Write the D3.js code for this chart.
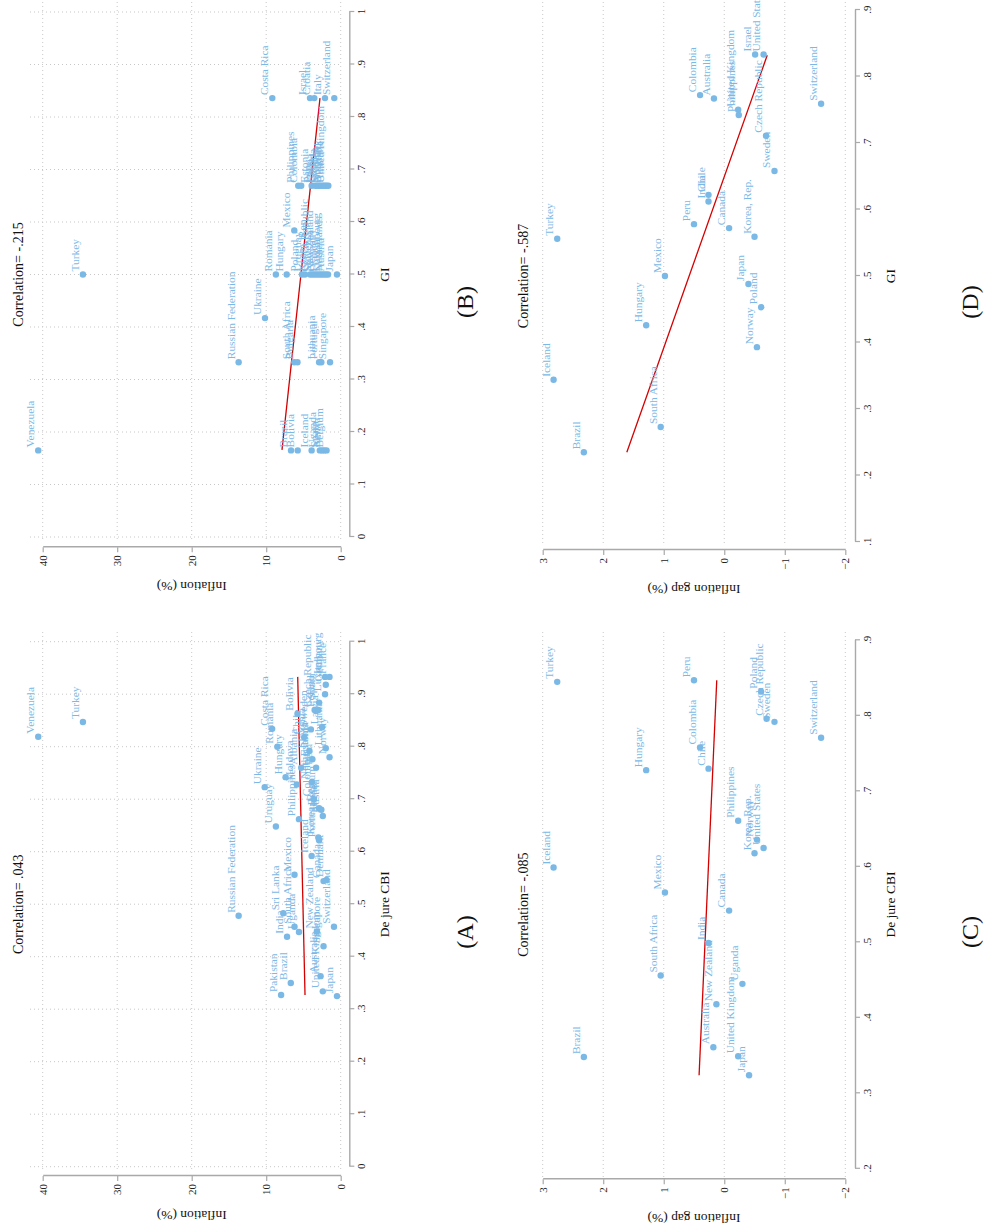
<!DOCTYPE html>
<html>
<head>
<meta charset="utf-8">
<script src="https://cdn.jsdelivr.net/npm/d3@7"></script>
<style>
body { margin: 0; background: #fff; }
text { font-family: "Liberation Serif", "Times New Roman", serif; }
</style>
</head>
<body>
<svg id="chart" width="986" height="1231" font-family="Liberation Serif, serif"></svg>
<script>
// ---- panel A : de jure CBI vs inflation ----
var aNames = ["Venezuela", "Turkey", "Costa Rica", "Romania", "Hungary", "Ukraine", "Bolivia", "Uruguay", "Philippines",
  "Russian Federation", "Mexico", "Sri Lanka", "India", "South Africa", "Uganda", "Pakistan", "Brazil", "Japan",
  "Switzerland", "Singapore", "United Kingdom", "Australia", "New Zealand", "Denmark", "Canada", "Iceland", "Korea, Rep.",
  "Moldova", "Albania", "Chile", "Slovenia", "Estonia", "Sweden", "Czech Republic", "Latvia", "Lithuania", "Luxembourg",
  "Germany", "France", "Italy", "Spain", "Netherlands", "Belgium", "Austria", "Portugal", "Poland", "Peru", "Colombia", "Norway", "Israel"];
var aCbi = [0.819, 0.847, 0.834, 0.800, 0.742, 0.723, 0.863, 0.648, 0.662,
  0.478, 0.556, 0.483, 0.438, 0.457, 0.447, 0.327, 0.350, 0.325,
  0.457, 0.420, 0.334, 0.363, 0.448, 0.546, 0.544, 0.592, 0.627,
  0.728, 0.760, 0.818, 0.792, 0.776, 0.833, 0.870, 0.837, 0.797, 0.900,
  0.918, 0.933, 0.933, 0.884, 0.733, 0.683, 0.668, 0.622, 0.870, 0.760, 0.700, 0.780, 0.680];
var aInfl = [40.6, 34.6, 9.2, 8.5, 7.4, 10.2, 5.8, 8.7, 5.6,
  13.7, 6.2, 7.7, 7.2, 6.2, 5.6, 8.0, 6.7, 0.5,
  0.9, 2.3, 2.4, 2.7, 3.2, 1.9, 2.3, 3.9, 3.0,
  5.9, 5.3, 4.9, 4.2, 3.8, 4.0, 3.5, 2.5, 2.0, 2.1,
  2.0, 1.5, 2.1, 2.9, 3.85, 2.9, 2.4, 2.9, 3.0, 3.3, 3.6, 1.5, 2.6];
var aFit = [[0.327, 4.79], [0.933, 5.77]];

// ---- panel B : GI vs inflation ----
var bNames = ["Costa Rica", "Israel", "Croatia", "Italy", "Switzerland",
  "Philippines", "Colombia", "Estonia", "Peru", "Latvia", "Chile", "Canada", "Sweden", "Norway", "Denmark", "Australia", "United Kingdom",
  "Mexico", "Turkey", "Romania", "Hungary", "Poland", "Uruguay", "Korea, Rep.", "Czech Republic", "Slovenia", "New Zealand", "Germany",
  "France", "Luxembourg", "Netherlands", "Austria", "Japan",
  "Russian Federation", "Ukraine", "South Africa", "Bulgaria", "Lithuania", "Portugal", "Singapore",
  "Venezuela", "Brazil", "Bolivia", "Iceland", "Uganda", "Spain", "Kenya", "Belgium"];
var bGi = [0.836, 0.836, 0.836, 0.836, 0.836,
  0.669, 0.669, 0.669, 0.669, 0.669, 0.669, 0.669, 0.669, 0.669, 0.669, 0.669, 0.669,
  0.584, 0.500, 0.500, 0.500, 0.500, 0.500, 0.500, 0.500, 0.500, 0.500, 0.500,
  0.500, 0.500, 0.500, 0.500, 0.500,
  0.333, 0.417, 0.333, 0.333, 0.333, 0.333, 0.333,
  0.165, 0.165, 0.165, 0.165, 0.165, 0.165, 0.165, 0.165];
var bInfl = [9.18, 4.12, 3.54, 2.11, 0.86,
  5.7, 5.3, 3.9, 3.4, 3.2, 3.0, 2.8, 2.55, 2.3, 2.1, 1.9, 1.66,
  6.23, 34.6, 8.7, 7.25, 5.2, 4.8, 4.1, 3.8, 3.5, 3.2, 2.9,
  2.6, 2.3, 2.0, 1.7, 0.5,
  13.7, 10.16, 6.23, 5.8, 2.9, 2.6, 1.43,
  40.6, 6.67, 5.77, 3.9, 2.8, 2.5, 2.2, 1.9];
var bFit = [[0.166, 7.88], [0.836, 2.78]];

// ---- panel C : de jure CBI vs inflation gap ----
var cNames = ["Turkey", "Peru", "Poland", "Czech Republic", "Sweden", "Switzerland", "Colombia", "Hungary", "Chile",
  "Philippines", "Norway", "United States", "Korea, Rep.", "Iceland", "Mexico", "Canada", "India", "South Africa",
  "Uganda", "New Zealand", "Australia", "United Kingdom", "Japan", "Brazil"];
var cCbi = [0.845, 0.847, 0.832, 0.796, 0.792, 0.771, 0.758, 0.728, 0.730,
  0.661, 0.636, 0.625, 0.618, 0.599, 0.566, 0.542, 0.499, 0.456,
  0.445, 0.418, 0.361, 0.349, 0.324, 0.348];
var cGap = [2.76, 0.50, -0.61, -0.70, -0.83, -1.60, 0.40, 1.29, 0.26,
  -0.23, -0.54, -0.65, -0.50, 2.82, 0.98, -0.08, 0.26, 1.05,
  -0.30, 0.13, 0.18, -0.23, -0.41, 2.32];
var cFit = [[0.324, 0.416], [0.847, 0.124]];

// ---- panel D : GI vs inflation gap ----
var dNames = ["Turkey", "Mexico", "Peru", "India", "Chile", "Canada", "Korea, Rep.", "Colombia", "Australia",
  "United Kingdom", "Philippines", "Israel", "United States", "Czech Republic", "Sweden", "Switzerland",
  "Japan", "Poland", "Norway", "Hungary", "Iceland", "South Africa", "Brazil"];
var dGi = [0.556, 0.500, 0.578, 0.612, 0.622, 0.572, 0.559, 0.772, 0.767,
  0.750, 0.742, 0.833, 0.833, 0.711, 0.658, 0.759,
  0.488, 0.453, 0.393, 0.426, 0.344, 0.273, 0.235];
var dGap = [2.76, 0.98, 0.50, 0.26, 0.26, -0.08, -0.50, 0.40, 0.17,
  -0.23, -0.24, -0.51, -0.65, -0.69, -0.83, -1.60,
  -0.40, -0.61, -0.54, 1.29, 2.82, 1.05, 2.32];
var dFit = [[0.235, 1.61], [0.832, -0.71]];

var correlations = ["Correlation= .043", "Correlation= -.215", "Correlation= -.085", "Correlation= -.587"];
var panelLetters = ["(A)", "(B)", "(C)", "(D)"];
var cbiTicks = [0, .1, .2, .3, .4, .5, .6, .7, .8, .9, 1];
var cbiTicksC = [.2, .3, .4, .5, .6, .7, .8, .9];
var giTicksD = [.1, .2, .3, .4, .5, .6, .7, .8, .9];
var inflTicks = [0, 10, 20, 30, 40];
var gapTicks = [-2, -1, 0, 1, 2, 3];

var dotColor = "#7ab8e6";
var fitColor = "#d40000";
var axisColor = "#a9a9a9";
var gridColor = "#c8c8c8";
var serif = "'Liberation Serif', 'Times New Roman', serif";

var svg = d3.select("#chart");
svg.append("rect").attr("width", 986).attr("height", 1231).attr("fill", "#fff");

// whole figure is laid out landscape, then turned a quarter round
var fig = svg.append("g").attr("transform", "translate(0,1231) rotate(-90)");

function fmtShare(d) {
  if (d === 0) return "0";
  if (d === 1) return "1";
  return d3.format(".1f")(d).replace(/^0/, "");
}

function drawPanel(o) {
  var g = fig.append("g");
  var x = o.x, y = o.y;

  // dotted grid
  if (o.xGrid) {
    g.selectAll(".xg").data(o.xTicks).enter().append("line")
      .attr("x1", d => x(d)).attr("x2", d => x(d))
      .attr("y1", o.regY[0]).attr("y2", o.regY[1])
      .attr("stroke", gridColor).attr("stroke-width", 1).attr("stroke-dasharray", "1,3");
  }
  g.selectAll(".yg").data(o.yTicks).enter().append("line")
    .attr("y1", d => y(d)).attr("y2", d => y(d))
    .attr("x1", o.regX[0]).attr("x2", o.regX[1])
    .attr("stroke", gridColor).attr("stroke-width", 1).attr("stroke-dasharray", "1,3");

  // axes
  var ax = g.append("g").attr("transform", "translate(0," + o.xAxisAt + ")")
    .call(d3.axisBottom(x).tickValues(o.xTicks).tickFormat(fmtShare).tickSize(5).tickPadding(3).tickSizeOuter(0));
  var ay = g.append("g").attr("transform", "translate(" + o.yAxisAt + ",0)")
    .call(d3.axisLeft(y).tickValues(o.yTicks).tickFormat(d3.format("d")).tickSize(5).tickPadding(3).tickSizeOuter(0));
  [ax, ay].forEach(function (a) {
    a.attr("font-family", serif);
    a.select(".domain").attr("stroke", axisColor).attr("stroke-width", 1.4);
    a.selectAll(".tick line").attr("stroke", axisColor).attr("stroke-width", 1.2);
    a.selectAll(".tick text").attr("fill", "#222").style("font-size", "11px").style("font-family", serif);
  });

  // fitted line
  g.append("line")
    .attr("x1", x(o.fit[0][0])).attr("y1", y(o.fit[0][1]))
    .attr("x2", x(o.fit[1][0])).attr("y2", y(o.fit[1][1]))
    .attr("stroke", fitColor).attr("stroke-width", 1.3);

  // points and their labels
  var pts = o.names.map(function (n, i) { return { name: n, xv: o.xs[i], yv: o.ys[i] }; });
  g.selectAll(".lab").data(pts).enter().append("text")
    .attr("x", d => x(d.xv) + 3).attr("y", d => y(d.yv) - 4)
    .attr("fill", dotColor).style("font-size", "11.4px").style("font-family", serif)
    .text(d => d.name);
  g.selectAll(".dot").data(pts).enter().append("circle")
    .attr("cx", d => x(d.xv)).attr("cy", d => y(d.yv)).attr("r", 3.2)
    .attr("fill", dotColor);

  // texts
  var xr = x.range(), yr = y.range();
  var xc = (xr[0] + xr[1]) / 2, yc = (yr[0] + yr[1]) / 2;
  g.append("text").attr("x", xc).attr("y", o.top + 23).attr("text-anchor", "middle")
    .style("font-size", "14px").style("font-family", serif).attr("fill", "#111").text(o.corr);
  g.append("text").attr("x", xc).attr("y", o.xAxisAt + 40).attr("text-anchor", "middle")
    .style("font-size", "13.5px").style("font-family", serif).attr("fill", "#111").text(o.xTitle);
  g.append("text").attr("transform", "translate(" + (o.yAxisAt - 35) + "," + yc + ") rotate(-90)")
    .attr("text-anchor", "middle").style("font-size", "13.5px").style("font-family", serif)
    .attr("fill", "#111").text(o.yTitle);
  g.append("text").attr("x", o.left + 299).attr("y", o.top + 473).attr("text-anchor", "middle")
    .style("font-size", "24px").style("font-family", serif).attr("fill", "#111").text(o.letter);
}

var yInfl = d3.scaleLinear().domain([0, 40]).range([340.7, 42.7]);
var yGap = d3.scaleLinear().domain([-2, 3]).range([845.3, 542.7]);

drawPanel({ names: aNames, xs: aCbi, ys: aInfl, fit: aFit,
  x: d3.scaleLinear().domain([0, 1]).range([64.3, 589.3]), y: yInfl,
  xTicks: cbiTicks, yTicks: inflTicks, xGrid: true, regX: [62, 600], regY: [30, 342],
  xAxisAt: 349.3, yAxisAt: 55, top: 0, left: 0,
  corr: correlations[0], letter: panelLetters[0], xTitle: "De jure CBI", yTitle: "Inflation (%)" });

drawPanel({ names: bNames, xs: bGi, ys: bInfl, fit: bFit,
  x: d3.scaleLinear().domain([0, 1]).range([694, 1219]), y: yInfl,
  xTicks: cbiTicks, yTicks: inflTicks, xGrid: true, regX: [692, 1231], regY: [30, 342],
  xAxisAt: 349.3, yAxisAt: 683.7, top: 0, left: 630,
  corr: correlations[1], letter: panelLetters[1], xTitle: "GI", yTitle: "Inflation (%)" });

drawPanel({ names: cNames, xs: cCbi, ys: cGap, fit: cFit,
  x: d3.scaleLinear().domain([.2, .9]).range([62.2, 590.7]), y: yGap,
  xTicks: cbiTicksC, yTicks: gapTicks, xGrid: false, regX: [54, 600],
  xAxisAt: 855, yAxisAt: 51.7, top: 505, left: 0,
  corr: correlations[2], letter: panelLetters[2], xTitle: "De jure CBI", yTitle: "Inflation gap (%)" });

drawPanel({ names: dNames, xs: dGi, ys: dGap, fit: dFit,
  x: d3.scaleLinear().domain([.1, .9]).range([689, 1221]), y: yGap,
  xTicks: giTicksD, yTicks: gapTicks, xGrid: false, regX: [688, 1231],
  xAxisAt: 855, yAxisAt: 681, top: 505, left: 630,
  corr: correlations[3], letter: panelLetters[3], xTitle: "GI", yTitle: "Inflation gap (%)" });
</script>
</body>
</html>
